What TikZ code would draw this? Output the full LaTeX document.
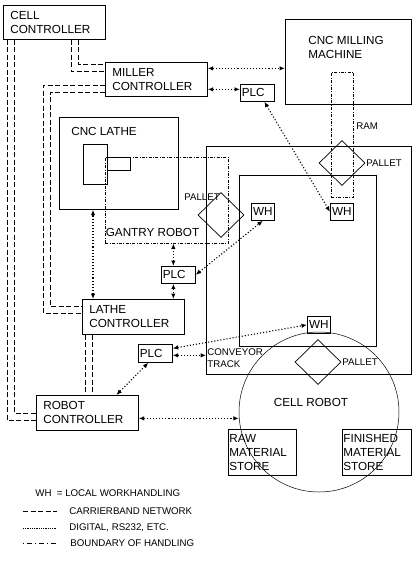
\documentclass[tikz,border=0pt]{standalone}
\usepackage{fontspec}
\setmainfont{Liberation Sans}
\usepackage{tikz}
\usetikzlibrary{arrows,arrows.meta,shapes,calc,positioning}
\newcommand{\bigtxt}{\fontsize{11.7}{14}\selectfont}
\newcommand{\smalltxt}{\fontsize{9.7}{12.5}\selectfont}
\tikzset{
    ctrl/.style = {draw, rectangle, anchor=north west,
        text width=88pt, inner xsep=7pt, inner ysep=0pt,
        minimum height=34pt, align=left, font=\bigtxt},
    plc/.style = {draw, rectangle, anchor=north west,
        text width=31pt, inner xsep=1.5pt, inner ysep=0pt,
        minimum height=17pt, align=left, font=\bigtxt},
    wh/.style = {draw, rectangle, anchor=north west, inner sep=0pt,
        minimum width=23pt, minimum height=17pt, font=\bigtxt},
    store/.style = {draw, rectangle, anchor=north west,
        text width=66pt, inner xsep=1pt, inner ysep=0pt,
        minimum height=46pt, align=left, font=\bigtxt},
    area/.style = {draw, rectangle, anchor=north west, inner sep=0pt},
    pallet/.style = {draw, diamond, inner sep=0pt,
        minimum width=46pt, minimum height=45pt},
    boundary/.style = {draw, rectangle, anchor=north west, inner sep=0pt,
        line width=0.5pt, dash pattern=on 3pt off 1.5pt on 0.8pt off 1.5pt},
    title/.style = {inner sep=0pt, font=\bigtxt, align=left},
    tag/.style = {inner sep=0pt, font=\smalltxt, align=left},
    network/.style = {draw, line width=0.7pt, dash pattern=on 5pt off 2.5pt},
    digital/.style = {draw, <->, line width=1.1pt, dash pattern=on 1.1pt off 2pt}
}

\begin{document}
\begin{tikzpicture}[x=1pt, y=-1pt, >={Latex[length=5.5pt,width=4.5pt]}, line width=0.7pt]
    \useasboundingbox (0,0) rectangle (414,570);
    \node [ctrl] (cellctl) at (3,5) {CELL\\CONTROLLER};
    \node [ctrl] (millerctl) at (105,62) {MILLER\\CONTROLLER};
    \node [ctrl, minimum height=35pt] (lathectl) at (82,299) {LATHE\\CONTROLLER};
    \node [ctrl, minimum height=35pt] (robotctl) at (36,395) {ROBOT\\CONTROLLER};

    \node [area, minimum width=126pt, minimum height=85pt] (milling) at (285,19) {};
    \node [title, anchor=north west] (millingtxt) at (308,36) {CNC MILLING\\MACHINE};
    \node [boundary, minimum width=22pt, minimum height=125pt] (ram) at (331,72) {};
    \node [tag, anchor=west] (ramtxt) at (356,126) {RAM};

    \node [area, minimum width=119pt, minimum height=92pt] (lathe) at (59,117) {};
    \node [title, anchor=west] (lathetxt) at (71,131) {CNC LATHE};
    \node [area, minimum width=24pt, minimum height=40pt] (chuck) at (83,144) {};
    \node [area, minimum width=23pt, minimum height=13pt] (tool) at (107,157) {};
    \node [boundary, minimum width=123pt, minimum height=86pt] (gantry) at (105,157) {};
    \node [title, anchor=west] (gantrytxt) at (105.5,232) {GANTRY ROBOT};

    \node [area, minimum width=205pt, minimum height=228pt] (track) at (206,146) {};
    \node [area, minimum width=137pt, minimum height=171pt] (trackin) at (239,175) {};
    \node [tag, anchor=north west] (tracktxt) at (207,348) {CONVEYOR\\TRACK};

    \node [pallet] (pallet1) at (221,215) {};
    \node [tag, anchor=west] (pallet1txt) at (184,197) {PALLET};
    \node [pallet] (pallet2) at (342,163) {};
    \node [tag, anchor=west] (pallet2txt) at (366,163) {PALLET};
    \node [pallet] (pallet3) at (318,362) {};
    \node [tag, anchor=west] (pallet3txt) at (342,362) {PALLET};

    \node [plc] (plc1) at (240,84) {PLC};
    \node [plc] (plc2) at (161,266) {PLC};
    \node [plc, minimum height=18pt] (plc3) at (138,344) {PLC};
    \node [wh] (wh1) at (251,203) {WH};
    \node [wh] (wh2) at (330,203) {WH};
    \node [wh] (wh3) at (307,316) {WH};

    \node [draw, circle, line width=0.5pt, minimum size=160pt, inner sep=0pt] (cellrobot) at (319,412) {};
    \node [title] (cellrobottxt) at (311,402) {CELL ROBOT};
    \node [store] (raw) at (228,429) {RAW\\MATERIAL\\STORE};
    \node [store, text width=67pt] (finished) at (342,429) {FINISHED\\MATERIAL\\STORE};

    \draw [network] ([xshift=4pt]cellctl.south west) |- ([yshift=-7.5pt]robotctl.west);
    \draw [network] ([xshift=11pt]cellctl.south west) |- (robotctl.west);
    \draw [network] ([xshift=68pt]cellctl.south west) |- ([yshift=8pt]millerctl.west);
    \draw [network] ([xshift=75pt]cellctl.south west) |- ([yshift=15pt]millerctl.west);
    \draw [network] ([yshift=-6pt]millerctl.west) -- ++(-62,0) |- ([yshift=3.5pt]lathectl.west);
    \draw [network] ([yshift=-13pt]millerctl.west) -- ++(-55,0) |- ([yshift=10.5pt]lathectl.west);
    \draw [network] ([xshift=3pt]lathectl.south west) -- ([xshift=3pt]lathectl.south west |- robotctl.north);
    \draw [network] ([xshift=10pt]lathectl.south west) -- ([xshift=10pt]lathectl.south west |- robotctl.north);

    \draw [digital] ([yshift=11pt]millerctl.east) -- ([yshift=11pt]millerctl.east -| milling.west);
    \draw [digital] ([yshift=-10pt]millerctl.east) -- ([yshift=-10pt]millerctl.east -| plc1.west);
    \draw [digital] ([xshift=7pt]plc1.south) -- (wh2.west);
    \draw [digital] ([xshift=-5pt]plc2.north) -- ([xshift=-5pt]plc2.north |- gantry.south);
    \draw [digital] ([xshift=-5pt]plc2.south) -- ([xshift=-5pt]plc2.south |- lathectl.north);
    \draw [digital] (plc2.east) -- (wh1.south);
    \draw [digital] ([xshift=11pt]lathectl.north west) -- ([xshift=11pt]lathectl.north west |- lathe.south);
    \draw [digital] ([yshift=5pt]plc3.east) -- (wh3.west);
    \draw [digital] ([yshift=-2pt]plc3.east) -- ([yshift=-2pt]plc3.east -| track.west);
    \draw [digital] ([xshift=-7pt]plc3.south) -- ([xshift=29pt]robotctl.north);
    \draw [digital] ([yshift=-5.5pt]robotctl.east) -- ([yshift=-5.5pt]robotctl.east -| cellrobot.west);

    \node [tag, anchor=west] (whkey) at (35,493) {WH\ \ = LOCAL WORKHANDLING};
    \node [tag, anchor=west] (netkey) at (69,511) {CARRIERBAND NETWORK};
    \node [tag, anchor=west] (digkey) at (69,528) {DIGITAL, RS232, ETC.};
    \node [tag, anchor=west] (bndkey) at (70,543) {BOUNDARY OF HANDLING};
    \draw [network] ([xshift=-46pt]netkey.west) -- ([xshift=-12pt]netkey.west);
    \draw [line width=0.5pt, dash pattern=on 0.6pt off 1.2pt] ([xshift=-46pt]digkey.west) -- ([xshift=-12pt]digkey.west);
    \draw [line width=0.7pt, dash pattern=on 1pt off 3pt on 5pt off 3pt] ([xshift=-47pt]bndkey.west) -- ([xshift=-13pt]bndkey.west);
\end{tikzpicture}
\end{document}
